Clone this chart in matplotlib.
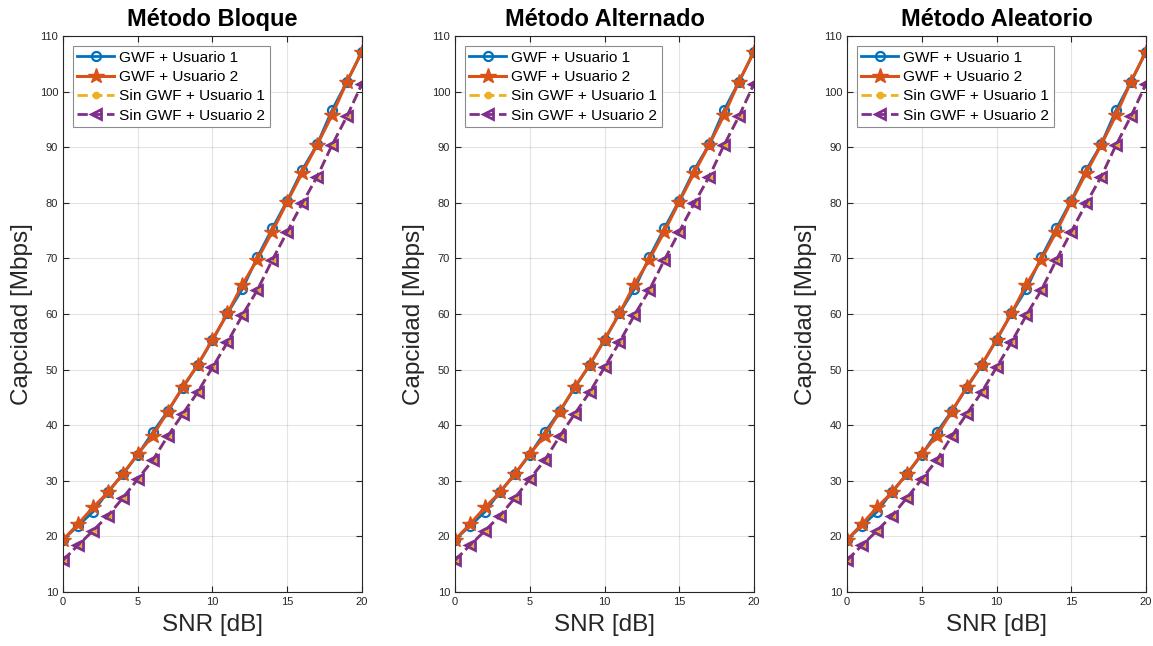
import numpy as np
import matplotlib
matplotlib.use("Agg")
import matplotlib.pyplot as plt

plt.rcParams["font.family"] = ["Liberation Sans", "DejaVu Sans"]

snr_db = np.arange(0, 21)

gwf_usuario1 = [19.4, 21.9, 24.4, 28.0, 31.2, 34.7, 38.7, 42.5, 46.7, 50.8,
                55.3, 60.1, 64.5, 70.2, 75.4, 80.4, 85.9, 90.5, 96.7, 101.8,
                107.2]
gwf_usuario2 = [19.4, 22.2, 25.2, 27.9, 31.2, 34.8, 38.1, 42.4, 46.8, 50.8,
                55.4, 60.1, 65.3, 69.8, 74.8, 80.2, 85.4, 90.4, 95.8, 101.8,
                107.2]
sin_usuario1 = [15.7, 18.4, 21.0, 23.7, 26.9, 30.3, 33.7, 38.0, 42.0, 45.9,
                50.4, 54.9, 59.8, 64.3, 69.7, 74.8, 79.9, 84.7, 90.4, 95.6,
                101.4]
sin_usuario2 = sin_usuario1

titles = ["Método Bloque", "Método Alternado", "Método Aleatorio"]
legend_labels = ["GWF + Usuario 1", "GWF + Usuario 2",
                 "Sin GWF + Usuario 1", "Sin GWF + Usuario 2"]

# MATLAB default colours
C_BLUE = "#0072BD"
C_ORANGE = "#D95319"
C_YELLOW = "#EDB120"
C_PURPLE = "#7E2F8E"
DARK = "#262626"

fig = plt.figure(figsize=(11.53, 6.46), dpi=100)

lefts = [63 / 1153, 455 / 1153, 847 / 1153]
width = 299 / 1153
bottom = (646 - 592) / 646
height = 556 / 646

for left, title in zip(lefts, titles):
    ax = fig.add_axes([left, bottom, width, height])

    ax.plot(snr_db, gwf_usuario1, "-o", color=C_BLUE, lw=2, ms=6.5,
            mfc="none", mew=1.6, label=legend_labels[0])
    ax.plot(snr_db, gwf_usuario2, "-*", color=C_ORANGE, lw=2.2, ms=11.5,
            label=legend_labels[1])
    ax.plot(snr_db, sin_usuario1, "--.", color=C_YELLOW, lw=2, ms=9,
            label=legend_labels[2])
    ax.plot(snr_db, sin_usuario2, "--<", color=C_PURPLE, lw=2, ms=7,
            mfc="none", mew=2, label=legend_labels[3])

    ax.set_xlim(0, 20)
    ax.set_ylim(10, 110)
    ax.set_xticks(np.arange(0, 21, 5))
    ax.set_yticks(np.arange(10, 111, 10))
    ax.grid(True, color=DARK, alpha=0.12, lw=0.8)
    ax.tick_params(direction="in", top=True, right=True, labelsize=8,
                   colors=DARK, length=4)
    for spine in ax.spines.values():
        spine.set_color(DARK)
        spine.set_linewidth(0.8)

    ax.set_title(title, fontsize=17, fontweight="bold", pad=7)
    ax.set_xlabel("SNR [dB]", fontsize=17.5, color=DARK, labelpad=5)
    ax.set_ylabel("Capcidad [Mbps]", fontsize=17.5, color=DARK, labelpad=5)

    leg = ax.legend(loc="upper left", fontsize=11.1, fancybox=False,
                    framealpha=1, edgecolor="#8c8c8c", handlelength=2.4,
                    borderpad=0.3, labelspacing=0.35, handletextpad=0.3,
                    borderaxespad=0, bbox_to_anchor=(0.033, 0.982))
    leg.get_frame().set_linewidth(0.8)

fig.savefig("out.png", dpi=100)
